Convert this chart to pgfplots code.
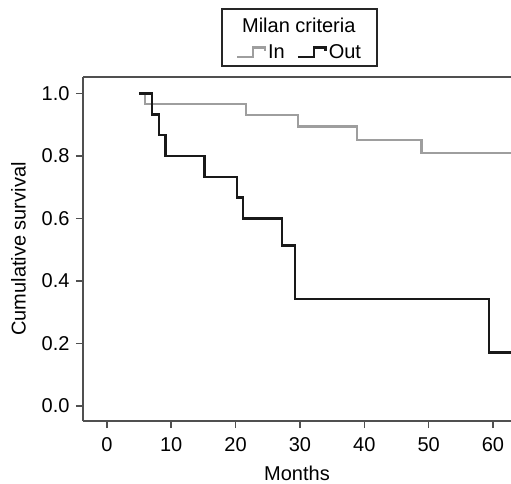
\documentclass[border=0pt]{standalone}
\usepackage{fontspec}
\setmainfont{Liberation Sans}
\usepackage{pgfplots}
\pgfplotsset{compat=1.18}
\definecolor{boxgray}{RGB}{80,80,80}
\definecolor{ingray}{RGB}{158,158,158}
\definecolor{outblack}{RGB}{25,25,25}

\begin{document}
\begin{tikzpicture}[font=\fontsize{20}{24}\selectfont]
\useasboundingbox (0,0) rectangle (511pt,483pt);
\begin{axis}[
  at={(83pt,62pt)}, anchor=south west,
  scale only axis, width=428pt, height=344pt,
  xmin=-3.7, xmax=62.8, ymin=-0.048, ymax=1.053,
  axis y line*=left, axis x line*=box,
  axis line style={-, draw=boxgray, line width=1.9pt},
  xtick={0,10,...,60}, ytick={0,0.2,0.4,0.6,0.8,1.0},
  xtick pos=left, ytick pos=left,
  tick align=outside, major tick length=7pt,
  tick style={boxgray, line width=1.4pt},
  /pgf/number format/assume math mode=true,
  xticklabel style={yshift=-6pt},
  yticklabel style={xshift=-3pt, /pgf/number format/.cd, fixed, fixed zerofill, precision=1},
  xlabel={Months}, ylabel={Cumulative survival},
  xlabel style={at={(axis description cs:0.5,-0.172)}, anchor=base, inner sep=0pt},
  ylabel style={at={(axis description cs:-0.1507,0.5)}, anchor=center},
  legend columns=2,
  legend style={at={(axis description cs:0.506,1.0727)}, anchor=center,
    draw=none, fill=none, inner sep=0pt,
    /tikz/every even column/.append style={column sep=10pt}},
  legend image code/.code={\draw[#1] (0pt,-5pt) -- (16pt,-5pt) -- (16pt,4.4pt) -- (27.7pt,4.4pt) -- (27.7pt,0.8pt);},
]
\addplot[const plot, ingray, line width=2.3pt] coordinates {
  (5.5,1.000) (5.9,0.967) (21.6,0.931) (29.7,0.895) (38.9,0.851) (48.9,0.809) (63.0,0.809)
};
\addlegendentry{In}
\addplot[const plot, outblack, line width=2.3pt] coordinates {
  (5.0,1.000) (7.0,0.933) (8.1,0.867) (9.1,0.800) (15.2,0.733) (20.2,0.667)
  (21.2,0.600) (27.2,0.514) (29.2,0.343) (59.4,0.171) (63.0,0.171)
};
\addlegendentry{Out}
\end{axis}
\draw[line width=1.5pt, black!85] (222pt,417pt) rectangle (377pt,474pt);
\node[anchor=base, inner sep=0pt] at (298.8pt,450.7pt) {Milan criteria};
\end{tikzpicture}
\end{document}
